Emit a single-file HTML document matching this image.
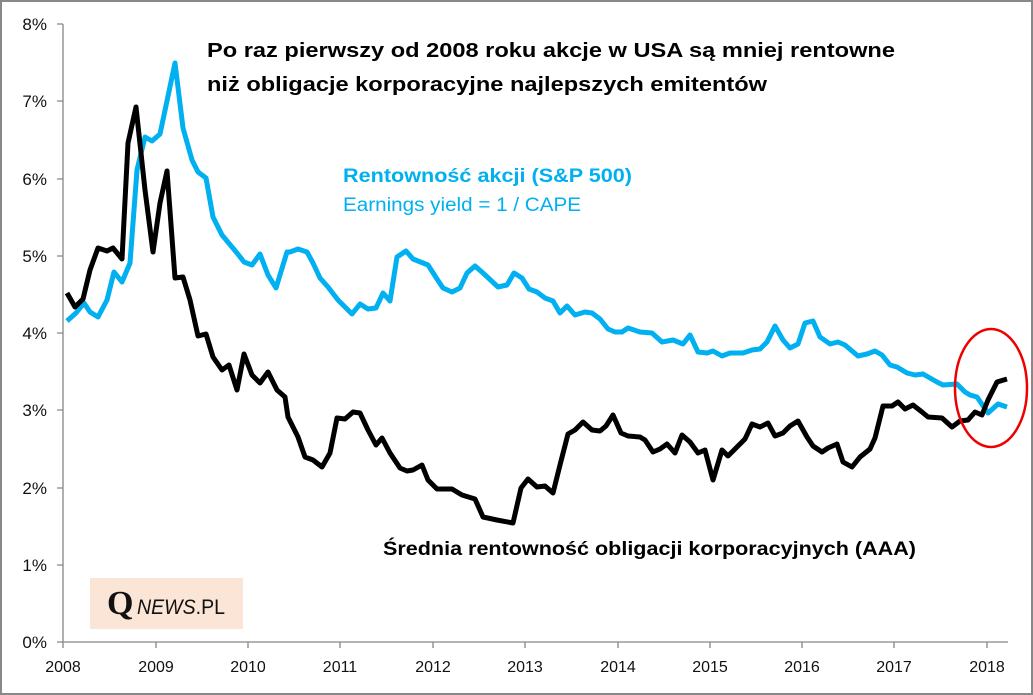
<!DOCTYPE html>
<html><head><meta charset="utf-8"><style>body{margin:0;background:#fff}svg{display:block}</style></head><body>
<svg width="1033" height="695" xmlns="http://www.w3.org/2000/svg" font-family="Liberation Sans, sans-serif">
<rect x="1" y="1" width="1031" height="693" fill="#fff" stroke="#888" stroke-width="2"/>
<g stroke="#868686" stroke-width="1.3" fill="none">
<line x1="63" y1="24" x2="63" y2="642"/>
<line x1="63" y1="642" x2="1008" y2="642"/>
<path d="M57 24H63M57 101H63M57 179H63M57 256H63M57 333H63M57 410H63M57 488H63M57 565H63M57 642H63"/>
<path d="M63 642V648M156 642V648M248 642V648M340 642V648M433 642V648M525 642V648M618 642V648M710 642V648M802 642V648M894 642V648M987 642V648"/>
</g>
<g font-size="17" fill="#111" text-anchor="end">
<text x="47" y="30">8%</text><text x="47" y="107">7%</text><text x="47" y="185">6%</text><text x="47" y="262">5%</text><text x="47" y="339">4%</text><text x="47" y="416">3%</text><text x="47" y="494">2%</text><text x="47" y="571">1%</text><text x="47" y="648">0%</text>
</g>
<g font-size="16" fill="#111" text-anchor="middle">
<text x="63" y="672">2008</text><text x="156" y="672">2009</text><text x="248" y="672">2010</text><text x="340" y="672">2011</text><text x="433" y="672">2012</text><text x="525" y="672">2013</text><text x="618" y="672">2014</text><text x="710" y="672">2015</text><text x="802" y="672">2016</text><text x="894" y="672">2017</text><text x="987" y="672">2018</text>
</g>
<rect x="90" y="578" width="153" height="51" fill="#fbe5d6"/>
<text x="107" y="614" font-family="Liberation Serif, serif" font-size="34" font-weight="bold" fill="#111">Q</text>
<text x="137" y="614" font-size="21" fill="#111" textLength="88" lengthAdjust="spacingAndGlyphs"><tspan font-style="italic">NEWS</tspan>.PL</text>
<polyline fill="none" stroke="#00b0f0" stroke-width="5" stroke-linejoin="round" points="67,321 76,313 84,303 90,312 98,317 107,300 114,272 122,282 130,263 137,170 145,137 152,141 160,134 175,63 183,128 192,160 198,172 206,178 213,217 222,235 237,253 244,262 252,265 260,254 268,275 276,288 287,252 290,252 298,249 307,252 313,263 320,278 328,287 338,300 352,314 360,304 368,309 376,308 383,293 390,301 397,257 406,251 413,259 428,265 437,279 443,288 452,292 460,288 467,273 475,266 483,273 498,287 507,285 514,273 522,278 529,289 537,292 545,298 553,301 560,313 567,306 575,315 585,312 592,313 600,319 608,329 615,332 622,332 628,328 640,332 652,333 662,342 673,340 683,344 690,335 698,352 707,353 713,351 722,356 730,353 743,353 752,350 760,349 767,342 775,326 783,340 790,348 798,344 805,323 813,321 820,337 830,344 838,342 845,345 858,356 867,354 875,351 882,355 890,365 897,367 907,373 915,375 923,374 937,382 943,385 957,384 965,392 970,395 977,397 988,413 998,404 1007,407"/>
<polyline fill="none" stroke="#000" stroke-width="5" stroke-linejoin="round" points="67,293 75,307 83,299 90,270 98,248 107,251 113,248 122,259 128,143 136,107 145,190 153,252 160,203 167,171 175,278 183,277 190,300 198,336 206,334 213,357 222,370 229,365 237,390 244,354 252,375 260,383 268,372 277,390 285,397 288,417 298,437 305,457 313,460 322,467 330,453 337,418 345,419 353,412 360,413 368,430 376,445 382,438 390,453 400,468 407,471 413,470 422,465 428,480 437,489 452,489 462,495 475,499 483,517 497,520 513,523 521,488 528,479 537,487 545,486 553,493 560,465 568,434 575,430 583,422 592,430 600,431 606,426 613,415 621,433 628,436 640,437 645,440 653,452 660,449 667,444 675,453 682,435 690,442 698,453 705,450 713,480 722,450 728,456 737,447 745,439 752,424 760,427 768,423 775,436 783,433 790,426 798,421 807,437 813,446 822,452 828,448 837,444 843,462 852,467 860,457 870,449 875,438 883,406 892,406 898,402 905,409 913,405 922,412 928,417 942,418 952,427 960,421 968,420 975,412 982,415 988,400 997,382 1007,379"/>
<ellipse cx="991" cy="388" rx="36" ry="59" fill="none" stroke="#e00" stroke-width="2.5"/>
<g font-weight="bold" font-size="20" fill="#000">
<text x="207" y="57" textLength="688" lengthAdjust="spacingAndGlyphs">Po raz pierwszy od 2008 roku akcje w USA są mniej rentowne</text>
<text x="207" y="91" textLength="560" lengthAdjust="spacingAndGlyphs">niż obligacje korporacyjne najlepszych emitentów</text>
<text x="383" y="555" font-size="19" textLength="533" lengthAdjust="spacingAndGlyphs">Średnia rentowność obligacji korporacyjnych  (AAA)</text>
</g>
<text x="343" y="182" font-size="19" font-weight="bold" fill="#00b0f0" textLength="289" lengthAdjust="spacingAndGlyphs">Rentowność akcji (S&amp;P 500)</text>
<text x="343" y="211" font-size="19" fill="#00b0f0" textLength="238" lengthAdjust="spacingAndGlyphs">Earnings yield = 1 / CAPE</text>
</svg>
</body></html>
